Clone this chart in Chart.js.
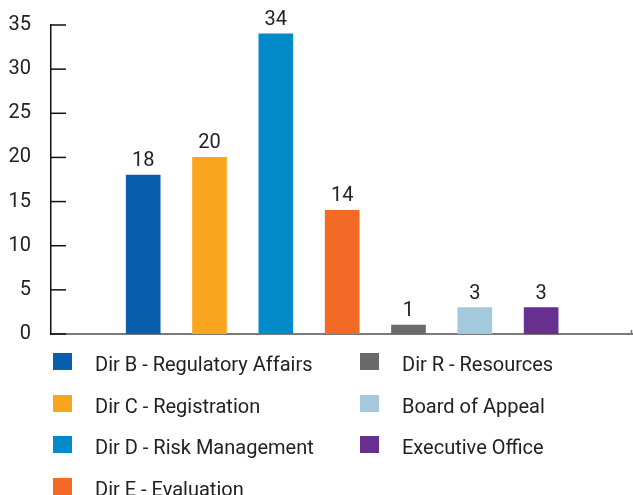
<!DOCTYPE html>
<html>
<head>
<meta charset="utf-8">
<script src="https://cdn.jsdelivr.net/npm/chart.js@4/dist/chart.umd.min.js"></script>
<style>
  html, body { margin: 0; padding: 0; background: #fff; }
  #wrap { position: relative; width: 633px; height: 495px; }
  #legend { position: absolute; left: 0; top: 0; font-family: Roboto, sans-serif; font-size: 20px; color: #222; }
  .item { position: absolute; white-space: nowrap; }
  .box { position: absolute; width: 19px; height: 17px; }
  .txt { position: absolute; line-height: 20px; }
</style>
</head>
<body>
<div id="wrap">
  <canvas id="directorate-bar-chart" width="633" height="495"></canvas>
  <div id="legend"></div>
</div>
<script>
// data
var categories = ['Dir B - Regulatory Affairs', 'Dir C - Registration', 'Dir D - Risk Management',
    'Dir E - Evaluation', 'Dir R - Resources', 'Board of Appeal', 'Executive Office'];
var values = [18, 20, 34, 14, 1, 3, 3];
var colors = ['#095ead', '#f9a61e', '#028bc8', '#f26a26', '#6a6a6b', '#a4c9dc', '#67308f'];
var yTicks = [0, 5, 10, 15, 20, 25, 30, 35];

var textColor = '#222';
var fontFamily = 'Roboto, sans-serif';

// inner tick marks on the y axis
var innerTicks = {
    id: 'innerTicks',
    afterDraw: function (chart) {
        var ctx = chart.ctx;
        var y = chart.scales.y;
        var left = chart.chartArea.left;
        ctx.save();
        ctx.strokeStyle = '#111';
        ctx.lineWidth = 1.5;
        yTicks.forEach(function (v) {
            var py = y.getPixelForValue(v);
            ctx.beginPath();
            ctx.moveTo(left, py);
            ctx.lineTo(left + 15, py);
            ctx.stroke();
        });
        // small mark at the right end of the x axis
        ctx.strokeStyle = '#777';
        ctx.beginPath();
        ctx.moveTo(chart.chartArea.right - 0.5, chart.chartArea.bottom);
        ctx.lineTo(chart.chartArea.right - 0.5, chart.chartArea.bottom - 4);
        ctx.stroke();
        ctx.restore();
    }
};

// value labels above bars
var valueLabels = {
    id: 'valueLabels',
    afterDatasetsDraw: function (chart) {
        var ctx = chart.ctx;
        var meta = chart.getDatasetMeta(0);
        ctx.save();
        ctx.fillStyle = textColor;
        ctx.font = '20px ' + fontFamily;
        ctx.textAlign = 'center';
        ctx.textBaseline = 'bottom';
        meta.data.forEach(function (bar, i) {
            ctx.fillText(values[i], bar.x, bar.y - 4);
        });
        ctx.restore();
    }
};

var config = {
    type: 'bar',
    data: {
        datasets: [{
            data: values.map(function (v, i) { return {x: i, y: v}; }),
            backgroundColor: colors,
            borderWidth: 0,
            barThickness: 34
        }]
    },
    options: {
        responsive: false,
        animation: false,
        layout: { padding: { top: 25, right: 1, left: 0, bottom: 0 } },
        plugins: {
            legend: { display: false },
            tooltip: { enabled: false }
        },
        scales: {
            x: {
                type: 'linear',
                offset: false,
                min: -1.39,
                max: 7.37,
                ticks: { display: false },
                grid: { display: false, drawTicks: false, offset: false },
                border: { display: true, color: '#7a7a7a', width: 2 },
                afterFit: function (scale) {
                    scale.height = 161;
                    scale.paddingLeft = 0;
                    scale.paddingRight = 0;
                }
            },
            y: {
                min: 0,
                max: 35,
                ticks: {
                    stepSize: 5,
                    padding: 20,
                    color: textColor,
                    font: { family: fontFamily, size: 20 }
                },
                grid: { display: false, drawTicks: false },
                border: { display: true, color: '#111', width: 1.5 },
                afterFit: function (scale) {
                    scale.width = 51;
                    scale.paddingTop = 0;
                    scale.paddingBottom = 0;
                }
            }
        }
    },
    plugins: [innerTicks, valueLabels]
};

var ctx = document.getElementById('directorate-bar-chart').getContext('2d');
window.directorateBarChart = new Chart(ctx, config);

// legend, two columns (column-major)
var legend = document.getElementById('legend');
categories.forEach(function (name, i) {
    var col = i < 4 ? 0 : 1;
    var row = i < 4 ? i : i - 4;
    var item = document.createElement('div');
    item.className = 'item';
    item.style.left = (col === 0 ? 53 : 360) + 'px';
    item.style.top = (353 + row * 41.7) + 'px';
    item.innerHTML = "<div class='box' style='background:" + colors[i] + ";left:0;top:0'></div>" +
        "<div class='txt' style='left:42px;top:1px'>" + name + "</div>";
    legend.appendChild(item);
});
</script>
</body>
</html>
